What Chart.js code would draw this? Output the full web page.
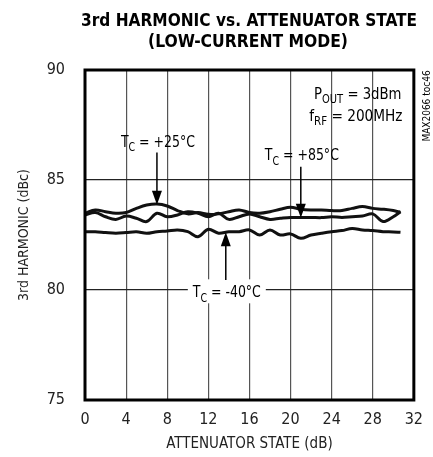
<!DOCTYPE html>
<html>
<head>
<meta charset="utf-8">
<script src="https://cdn.jsdelivr.net/npm/chart.js@4.4.0/dist/chart.umd.min.js"></script>
<style>
  html, body { margin: 0; padding: 0; background: #fff; }
  #wrap { width: 433px; height: 457px; }
</style>
</head>
<body>
<div id="wrap"><canvas id="lineChart" width="433" height="457"></canvas></div>
<script>
// Trục X: trạng thái suy hao (dB)
var attenuatorState = [0, 1, 2, 3, 4, 5, 6, 7, 8, 9, 10, 11, 12, 13, 14, 15, 16, 17, 18, 19, 20, 21, 22, 23, 24, 25, 26, 27, 28, 29, 30, 30.7];

// Hài bậc 3 (dBc) theo nhiệt độ vỏ
var harmonicPlus25 = [83.49, 83.64, 83.56, 83.49, 83.52, 83.71, 83.86, 83.91, 83.82, 83.61, 83.46, 83.52, 83.44, 83.46, 83.56, 83.64, 83.52, 83.49, 83.56, 83.67, 83.76, 83.67, 83.64, 83.64, 83.61, 83.61, 83.71, 83.79, 83.71, 83.67, 83.61, 83.53];
var harmonicPlus85 = [83.41, 83.52, 83.33, 83.21, 83.36, 83.26, 83.11, 83.49, 83.33, 83.41, 83.56, 83.49, 83.33, 83.49, 83.21, 83.33, 83.46, 83.33, 83.21, 83.26, 83.30, 83.29, 83.30, 83.29, 83.33, 83.30, 83.33, 83.36, 83.46, 83.11, 83.33, 83.56];
var harmonicMinus40 = [82.65, 82.65, 82.61, 82.58, 82.61, 82.65, 82.58, 82.65, 82.68, 82.73, 82.65, 82.42, 82.76, 82.58, 82.65, 82.65, 82.73, 82.50, 82.73, 82.50, 82.55, 82.35, 82.50, 82.58, 82.65, 82.70, 82.80, 82.73, 82.70, 82.65, 82.64, 82.62];

// Nhãn trục
var xTicks = [0, 4, 8, 12, 16, 20, 24, 28, 32];
var yTicks = [75, 80, 85, 90];

var NARROW = '"DejaVu Sans Condensed", "Liberation Sans Narrow", "Roboto", sans-serif';

function toPoints(xs, ys) {
    return xs.map(function (x, i) { return { x: x, y: ys[i] }; });
}

// Vẽ chữ có chỉ số dưới (ví dụ T_C), nén ngang theo sx
function drawSubText(ctx, parts, x, y, align, size, sx) {
    var subSize = Math.round(size * 0.72);
    var total = 0;
    parts.forEach(function (p) {
        ctx.font = (p[1] ? subSize : size) + 'px ' + NARROW;
        total += ctx.measureText(p[0]).width;
    });
    var w = total * sx;
    var start = align === 'right' ? x - w : (align === 'center' ? x - w / 2 : x);
    ctx.save();
    ctx.translate(start, y);
    ctx.scale(sx, 1);
    ctx.textAlign = 'left';
    ctx.textBaseline = 'alphabetic';
    var cx = 0;
    parts.forEach(function (p) {
        ctx.font = (p[1] ? subSize : size) + 'px ' + NARROW;
        ctx.fillText(p[0], cx, p[1] ? size * 0.28 : 0);
        cx += ctx.measureText(p[0]).width;
    });
    ctx.restore();
}

// Chữ thường nén ngang cho vừa bề rộng
function drawFitText(ctx, text, cx, cy, font, width) {
    ctx.save();
    ctx.font = font;
    var sx = width / ctx.measureText(text).width;
    ctx.translate(cx, cy);
    ctx.scale(sx, 1);
    ctx.textAlign = 'center';
    ctx.textBaseline = 'middle';
    ctx.fillText(text, 0, 0);
    ctx.restore();
}

// Mũi tên dọc, đầu nhọn ở tipY
function drawArrow(ctx, x, fromY, tipY) {
    var dir = tipY > fromY ? 1 : -1;
    ctx.strokeStyle = '#000';
    ctx.lineWidth = 1.5;
    ctx.beginPath();
    ctx.moveTo(x, fromY);
    ctx.lineTo(x, tipY - dir * 12);
    ctx.stroke();
    ctx.fillStyle = '#000';
    ctx.beginPath();
    ctx.moveTo(x, tipY);
    ctx.lineTo(x - 5, tipY - dir * 14);
    ctx.lineTo(x + 5, tipY - dir * 14);
    ctx.closePath();
    ctx.fill();
}

var notesPlugin = {
    id: 'notes',
    afterDatasetsDraw: function (chart) {
        var ctx = chart.ctx;
        var xs = chart.scales.x, ys = chart.scales.y;
        var a = chart.chartArea;
        ctx.save();

        // Khung viền
        ctx.strokeStyle = '#000';
        ctx.lineWidth = 3;
        ctx.strokeRect(a.left, a.top, a.right - a.left, a.bottom - a.top);

        ctx.fillStyle = '#000';
        // Tiêu đề
        drawFitText(ctx, '3rd HARMONIC vs. ATTENUATOR STATE', 249, 21, 'bold 18px ' + NARROW, 336);
        drawFitText(ctx, '(LOW-CURRENT MODE)', 248, 42, 'bold 18px ' + NARROW, 200);

        // Ghi chú điều kiện
        drawSubText(ctx, [['P', false], ['OUT', true], [' = 3dBm', false]], xs.getPixelForValue(30.8), ys.getPixelForValue(88.7), 'right', 16, 0.92);
        drawSubText(ctx, [['f', false], ['RF', true], [' = 200MHz', false]], xs.getPixelForValue(30.9), ys.getPixelForValue(87.7), 'right', 16, 0.95);

        // T_C = +25°C
        drawSubText(ctx, [['T', false], ['C', true], [' = +25°C', false]], xs.getPixelForValue(7.1), ys.getPixelForValue(86.5), 'center', 16, 0.87);
        drawArrow(ctx, xs.getPixelForValue(7), ys.getPixelForValue(86.25), ys.getPixelForValue(83.88));

        // T_C = +85°C
        drawSubText(ctx, [['T', false], ['C', true], [' = +85°C', false]], xs.getPixelForValue(21.1), ys.getPixelForValue(85.9), 'center', 16, 0.87);
        drawArrow(ctx, xs.getPixelForValue(21), ys.getPixelForValue(85.6), ys.getPixelForValue(83.28));

        // T_C = -40°C (nền trắng che lưới)
        var lx = xs.getPixelForValue(13.8), ly = ys.getPixelForValue(79.85);
        ctx.fillStyle = '#fff';
        ctx.fillRect(lx - 39, ly - 14, 78, 24);
        ctx.fillStyle = '#000';
        drawSubText(ctx, [['T', false], ['C', true], [' = -40°C', false]], lx, ly + 4, 'center', 16, 0.87);
        drawArrow(ctx, xs.getPixelForValue(13.7), ys.getPixelForValue(80.45), ys.getPixelForValue(82.62));

        // Mã hình
        ctx.save();
        ctx.translate(427, 106);
        ctx.rotate(-Math.PI / 2);
        ctx.font = '10px ' + NARROW;
        ctx.textAlign = 'center';
        ctx.textBaseline = 'middle';
        ctx.fillText('MAX2066 toc46', 0, 0);
        ctx.restore();

        ctx.restore();
    }
};

function lineSet(label, ys) {
    return {
        label: label,
        data: toPoints(attenuatorState, ys),
        borderColor: '#111',
        borderWidth: 3,
        pointRadius: 0,
        fill: false,
        tension: 0.35
    };
}

var ctx = document.getElementById('lineChart').getContext('2d');
var currentLineChart = new Chart(ctx, {
    type: 'line',
    data: {
        datasets: [
            lineSet('TC = +25°C', harmonicPlus25),
            lineSet('TC = +85°C', harmonicPlus85),
            lineSet('TC = -40°C', harmonicMinus40)
        ]
    },
    options: {
        responsive: false,
        animation: false,
        layout: { padding: { top: 70, right: 18, left: 0, bottom: 0 } },
        plugins: {
            legend: { display: false },
            tooltip: { enabled: false }
        },
        scales: {
            x: {
                type: 'linear',
                min: 0,
                max: 32,
                afterBuildTicks: function (s) { s.ticks = xTicks.map(function (v) { return { value: v }; }); },
                afterFit: function (s) { s.height = 57; },
                grid: { color: '#555', lineWidth: 1.2, drawTicks: false },
                border: { display: false },
                ticks: { color: '#222', padding: 10, font: { family: NARROW, size: 16 } },
                title: { display: true, text: 'ATTENUATOR STATE (dB)', color: '#222', padding: { top: 1 }, font: { family: NARROW, size: 15 } }
            },
            y: {
                min: 75,
                max: 90,
                afterBuildTicks: function (s) { s.ticks = yTicks.map(function (v) { return { value: v }; }); },
                afterFit: function (s) { s.width = 85; },
                grid: { color: '#222', lineWidth: 1.3, drawTicks: false },
                border: { display: false },
                ticks: { color: '#222', padding: 20, font: { family: NARROW, size: 16 } },
                title: { display: true, text: '3rd HARMONIC (dBc)', color: '#222', padding: { bottom: 0, top: 16 }, font: { family: NARROW, size: 14 } }
            }
        }
    },
    plugins: [notesPlugin]
});
</script>
</body>
</html>
